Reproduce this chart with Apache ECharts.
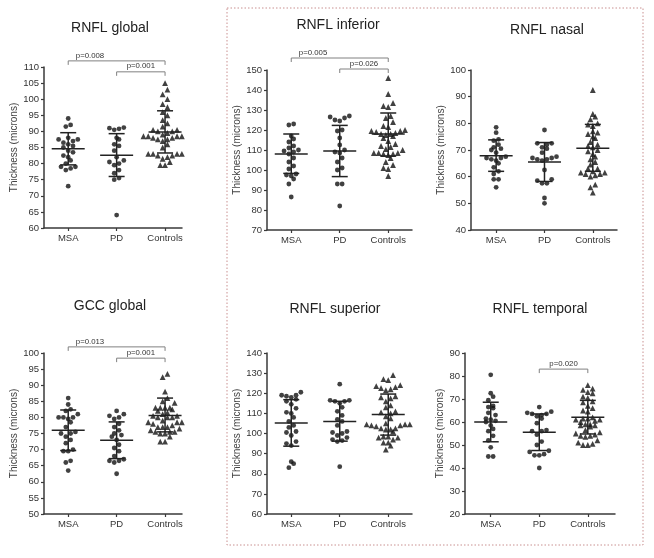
<!DOCTYPE html>
<html>
<head>
<meta charset="utf-8">
<script src="https://cdn.jsdelivr.net/npm/echarts@6/dist/echarts.min.js"></script>
<style>html,body{margin:0;padding:0;background:#fff;}#c{width:654px;height:558px;}</style>
</head>
<body>
<div id="c"></div>
<script>
// ---------- DATA ----------
const categories = ['MSA', 'PD', 'Controls'];

// RNFL global
const rnflGlobalMSA = [94, 92, 91.5, 88, 87.5, 87.5, 87, 86.5, 86, 85.5, 85, 84, 83.5, 82.5, 82, 81, 80, 79, 79, 78.5, 78, 73];
const rnflGlobalPD = [91.2, 91, 90.8, 90.5, 88, 87.5, 86, 85.5, 84, 82, 81, 80.5, 80, 79.5, 78, 77, 75.5, 75, 64];
const rnflGlobalCtrl = [105, 103, 101.5, 100, 98.5, 97.5, 96, 95, 93.5, 92.5, 91.5, 90.5, 90.5, 90, 90, 89.5, 89, 88.5, 88.5, 88.5, 88.5, 88.5, 88, 88, 87.5, 87.5, 87, 86, 85, 83, 83, 83, 83, 82.5, 82.5, 82, 81.5, 80.5, 79.5, 79.5];
const rnflGlobalStats = [[84.6, 79.6, 89.6], [82.6, 76, 89.3], [89.8, 83.3, 96.4]]; // mean, lower, upper
const rnflGlobalBrackets = [[0, 2, 111.9, 0.45], [1, 2, 108.5, 1.5]];
const rnflGlobalP = ['p=0.008', 'p=0.001'];

// RNFL inferior
const rnflInfMSA = [123, 122.5, 117, 115.5, 114, 112, 111, 110, 109.5, 109, 108, 106, 104, 102, 100.5, 98, 97.5, 97, 95.5, 93, 86.5];
const rnflInfPD = [127, 126.5, 126, 125, 124.5, 120, 119.5, 116, 112.5, 110, 109, 108.5, 106, 104, 101, 100, 93, 93, 82];
const rnflInfCtrl = [146, 138, 133.5, 132, 131.5, 127, 126, 124, 122, 121.5, 120, 119.5, 119.5, 119, 118.5, 118, 118, 117.5, 117, 116, 114.5, 113, 112, 111.5, 110.5, 110, 108.5, 108.5, 108.5, 108, 108, 107.5, 106, 104, 102.5, 101, 100.5, 97];
const rnflInfStats = [[108, 98.3, 118], [109.5, 96.7, 122.3], [118, 107, 128.5]];
const rnflInfBrackets = [[0, 2, 156, 0.45], [1, 2, 150.5, 1.5]];
const rnflInfP = ['p=0.005', 'p=0.026'];

// RNFL nasal
const rnflNasMSA = [78.5, 76.5, 74, 73.5, 72, 71, 70.5, 70, 69, 67.5, 67, 67, 66.5, 66, 65, 63.5, 62, 61, 59, 59, 56];
const rnflNasPD = [77.5, 72.5, 72.5, 72, 71, 70.5, 69, 67.5, 67, 67, 66.5, 66.5, 66, 62.5, 59, 58.5, 57.5, 57.5, 52, 50];
const rnflNasCtrl = [92.5, 83.5, 82.5, 81.5, 80, 79.5, 79, 77, 76.5, 76, 75, 74.5, 73, 72, 71.5, 71, 70, 69.5, 68.5, 67.5, 66.5, 65.5, 64.5, 63, 63, 62, 61.5, 61.5, 61, 61, 60.5, 60, 57, 56, 54];
const rnflNasStats = [[67.8, 62, 73.8], [65.5, 58.2, 72.8], [70.7, 62, 79.6]];
const rnflNasBrackets = [];
const rnflNasP = [];

// GCC global
const gccMSA = [86, 84, 82.5, 82, 81, 80, 80, 80, 79.5, 78.5, 77, 75.5, 75, 75, 74, 73, 72, 70, 69.5, 69.5, 66.5, 66, 63.5];
const gccPD = [82, 81, 80.5, 80, 79.5, 78, 77, 76, 75, 74.5, 74, 73, 71.5, 70.5, 69.5, 68, 67, 66.5, 66.5, 66, 62.5];
const gccCtrl = [93.5, 92.5, 88, 86, 85, 84.5, 83, 83, 83, 83, 82.5, 82, 81.5, 81, 80.5, 80.5, 80, 80, 80, 79, 78.5, 78.5, 78.5, 78, 77.5, 77, 77, 77, 76.5, 76, 75.5, 75.5, 75.5, 75, 75, 74, 72.5, 72.5];
const gccStats = [[76, 69.7, 82.3], [72.9, 67.2, 78.6], [80.6, 75.5, 86]];
const gccBrackets = [[0, 2, 101.9, 0.45], [1, 2, 98.4, 1.5]];
const gccP = ['p=0.013', 'p=0.001'];

// RNFL superior
const rnflSupMSA = [120.5, 119, 119, 118.5, 118, 117, 116, 114.5, 112.5, 110.5, 110, 108, 106, 104, 103, 101, 100.5, 99, 96, 95, 94, 86, 85, 83];
const rnflSupPD = [124.5, 116.5, 116.5, 116, 116, 115, 113, 111, 109, 107, 106, 104, 101, 100.5, 100, 99, 98, 97, 96.5, 96, 83.5];
const rnflSupCtrl = [129, 127, 126.5, 124, 123.5, 123, 122.5, 122, 121.5, 118.5, 118, 117.5, 116, 114, 113, 111, 110.5, 110, 108.5, 107.5, 105, 104.5, 104.5, 104.5, 104, 104, 103.5, 102.5, 102.5, 102, 102, 101, 98.5, 98.5, 98, 98, 97, 95.5, 95.5, 94, 92];
const rnflSupStats = [[105.2, 93.7, 116.8], [106, 96.2, 116], [109.4, 99.2, 119.6]];
const rnflSupBrackets = [];
const rnflSupP = [];

// RNFL temporal
const rnflTempMSA = [80.5, 72.5, 71, 69.5, 67, 66.5, 66, 64, 63, 61.5, 61, 60.5, 60, 58.5, 57, 56, 54, 52, 49, 45, 45];
const rnflTempPD = [66.5, 64.5, 64, 63.5, 63.5, 63, 62.5, 61.5, 59.5, 56.5, 56, 56, 54.5, 51.5, 50, 47.5, 47, 46, 45.5, 45.5, 40];
const rnflTempCtrl = [76, 74.5, 74, 73, 72.5, 71, 70.5, 69, 68.5, 67, 66, 65, 64.5, 62, 61.5, 61.5, 61, 61, 60.5, 60, 59, 59, 58.5, 58.5, 58, 56.5, 55.5, 55, 54.5, 54, 54, 53.5, 52, 51, 50.5, 50, 50];
const rnflTempStats = [[60, 51.4, 68.6], [55.5, 47.6, 63.5], [62.1, 54.8, 69.4]];
const rnflTempBrackets = [[1, 2, 83, 1.5]];
const rnflTempP = ['p=0.020'];

// ---------- LAYOUT ----------
const FONT = '"Liberation Sans", Arial, Helvetica, sans-serif';
const panels = [
  { title: 'RNFL global', cx: 110, cy: 28, grid: { left: 44, top: 67, width: 138, height: 161 }, x: [-0.5, 2.35], y: [60, 110, 5], gap: 23,
    groups: [rnflGlobalMSA, rnflGlobalPD, rnflGlobalCtrl], stats: rnflGlobalStats, br: rnflGlobalBrackets, p: rnflGlobalP },
  { title: 'RNFL inferior', cx: 338, cy: 25, grid: { left: 267, top: 70, width: 145, height: 160 }, x: [-0.5, 2.49], y: [70, 150, 10], gap: 24,
    groups: [rnflInfMSA, rnflInfPD, rnflInfCtrl], stats: rnflInfStats, br: rnflInfBrackets, p: rnflInfP },
  { title: 'RNFL nasal', cx: 547, cy: 30, grid: { left: 471, top: 70, width: 146, height: 160 }, x: [-0.52, 2.5], y: [40, 100, 10], gap: 22,
    groups: [rnflNasMSA, rnflNasPD, rnflNasCtrl], stats: rnflNasStats, br: rnflNasBrackets, p: rnflNasP },
  { title: 'GCC global', cx: 110, cy: 306, grid: { left: 44, top: 353, width: 138, height: 161 }, x: [-0.5, 2.35], y: [50, 100, 5], gap: 24,
    groups: [gccMSA, gccPD, gccCtrl], stats: gccStats, br: gccBrackets, p: gccP },
  { title: 'RNFL superior', cx: 335, cy: 309, grid: { left: 267, top: 353, width: 145, height: 161 }, x: [-0.5, 2.49], y: [60, 140, 10], gap: 24,
    groups: [rnflSupMSA, rnflSupPD, rnflSupCtrl], stats: rnflSupStats, br: rnflSupBrackets, p: rnflSupP },
  { title: 'RNFL temporal', cx: 540, cy: 309, grid: { left: 465, top: 353, width: 150, height: 161 }, x: [-0.53, 2.56], y: [20, 90, 10], gap: 20,
    groups: [rnflTempMSA, rnflTempPD, rnflTempCtrl], stats: rnflTempStats, br: rnflTempBrackets, p: rnflTempP }
];

// deterministic row-based swarm layout (points close in value share a row, centred on category)
function swarm(vals, yRange, hPx, pxPerUnit) {
  const sy = hPx / (yRange[1] - yRange[0]);
  const STEP = 4.8, DY = 5.3;
  const order = vals.map((v, i) => i).sort((a, b) => vals[a] - vals[b] || a - b);
  const out = new Array(vals.length).fill(0);
  let row = [];
  const flush = () => {
    const n = row.length;
    // alternate sides from the centre so that rows do not look slanted
    const slots = row.map((_, j) => (j - (n - 1) / 2));
    const ordered = slots.slice().sort((a, b) => Math.abs(a) - Math.abs(b) || a - b);
    row.forEach((idx, j) => { out[idx] = (ordered[j] * STEP) / pxPerUnit; });
    row = [];
  };
  let start = null;
  order.forEach(idx => {
    const py = vals[idx] * sy;
    if (start === null || py - start >= DY) { flush(); start = py; }
    row.push(idx);
  });
  flush();
  return out;
}

const grids = [], xAxes = [], yAxes = [], series = [], graphics = [];
const axisColor = '#3a3a3a';

panels.forEach((P, k) => {
  grids.push(Object.assign({ containLabel: false }, P.grid));
  xAxes.push({
    type: 'value', gridIndex: k, min: P.x[0], max: P.x[1],
    axisLine: { show: true, onZero: false, lineStyle: { color: axisColor, width: 1.5 } },
    axisTick: { show: true, customValues: [0, 1, 2], length: 3, lineStyle: { color: axisColor, width: 1.2 } },
    axisLabel: { show: true, customValues: [0, 1, 2], formatter: v => categories[Math.round(v)] || '', margin: 5,
      color: '#333', fontSize: 9.5, fontFamily: FONT },
    splitLine: { show: false }
  });
  yAxes.push({
    type: 'value', gridIndex: k, min: P.y[0], max: P.y[1], interval: P.y[2],
    name: 'Thickness (microns)', nameLocation: 'middle', nameGap: P.gap, nameRotate: 90,
    nameTextStyle: { color: '#444', fontSize: 10, fontFamily: FONT },
    axisLine: { show: true, onZero: false, lineStyle: { color: axisColor, width: 1.5 } },
    axisTick: { show: true, length: 3, lineStyle: { color: axisColor, width: 1.2 } },
    axisLabel: { margin: 5, color: '#333', fontSize: 9.5, fontFamily: FONT },
    splitLine: { show: false }
  });
  const pxPerUnit = P.grid.width / (P.x[1] - P.x[0]);
  P.groups.forEach((vals, g) => {
    const off = swarm(vals, P.y, P.grid.height, pxPerUnit);
    series.push({
      type: 'scatter', xAxisIndex: k, yAxisIndex: k,
      symbol: g < 2 ? 'circle' : 'triangle', symbolSize: g < 2 ? 4.8 : 5.8,
      itemStyle: { color: '#111' }, silent: true, z: 3,
      data: vals.map((v, i) => [g + off[i], v])
    });
  });
  series.push({
    type: 'custom', xAxisIndex: k, yAxisIndex: k, silent: true, z: 4,
    encode: { x: 0, y: 1 },
    data: P.stats.map((s, g) => [g, s[0], s[1], s[2]]),
    renderItem: function (params, api) {
      const x = api.value(0);
      const m = api.coord([x, api.value(1)]);
      const lo = api.coord([x, api.value(2)]);
      const hi = api.coord([x, api.value(3)]);
      const st = { stroke: '#222', lineWidth: 1.5 };
      return { type: 'group', children: [
        { type: 'line', shape: { x1: m[0] - 16.5, y1: m[1], x2: m[0] + 16.5, y2: m[1] }, style: st },
        { type: 'line', shape: { x1: lo[0], y1: lo[1], x2: hi[0], y2: hi[1] }, style: st },
        { type: 'line', shape: { x1: lo[0] - 8, y1: lo[1], x2: lo[0] + 8, y2: lo[1] }, style: st },
        { type: 'line', shape: { x1: hi[0] - 8, y1: hi[1], x2: hi[0] + 8, y2: hi[1] }, style: st }
      ] };
    }
  });
  if (P.br.length) {
    const labels = P.p;
    series.push({
      type: 'custom', xAxisIndex: k, yAxisIndex: k, silent: true, clip: false, z: 5,
      encode: { x: 0, y: 2 },
      data: P.br.map(b => [b[0], b[1], b[2], b[3]]),
      renderItem: function (params, api) {
        const a = api.coord([api.value(0), api.value(2)]);
        const b = api.coord([api.value(1), api.value(2)]);
        const l = api.coord([api.value(3), api.value(2)]);
        return { type: 'group', children: [
          { type: 'polyline', shape: { points: [[a[0], a[1] + 4], [a[0], a[1]], [b[0], b[1]], [b[0], b[1] + 4]] },
            style: { stroke: '#808080', fill: 'none', lineWidth: 1 } },
          { type: 'text', x: l[0], y: a[1] - 1.5,
            style: { text: labels[params.dataIndex], fill: '#333', font: '7.8px ' + FONT,
              textAlign: 'center', align: 'center', textVerticalAlign: 'bottom', verticalAlign: 'bottom' } }
        ] };
      }
    });
  }
  graphics.push({
    type: 'text', x: P.cx, y: P.cy, silent: true,
    style: { text: P.title, fill: '#222', font: '14px ' + FONT,
      textAlign: 'center', align: 'center', textVerticalAlign: 'middle', verticalAlign: 'middle' }
  });
});

graphics.push({
  type: 'rect', silent: true, z: -1,
  shape: { x: 227, y: 8, width: 416, height: 537 },
  style: { fill: 'none', stroke: '#c99090', lineWidth: 1, lineDash: [1.5, 2] }
});

const chart = echarts.init(document.getElementById('c'), null, { renderer: 'canvas' });
chart.setOption({
  backgroundColor: '#ffffff',
  animation: false,
  grid: grids,
  xAxis: xAxes,
  yAxis: yAxes,
  series: series,
  graphic: { elements: graphics }
});
</script>
</body>
</html>
